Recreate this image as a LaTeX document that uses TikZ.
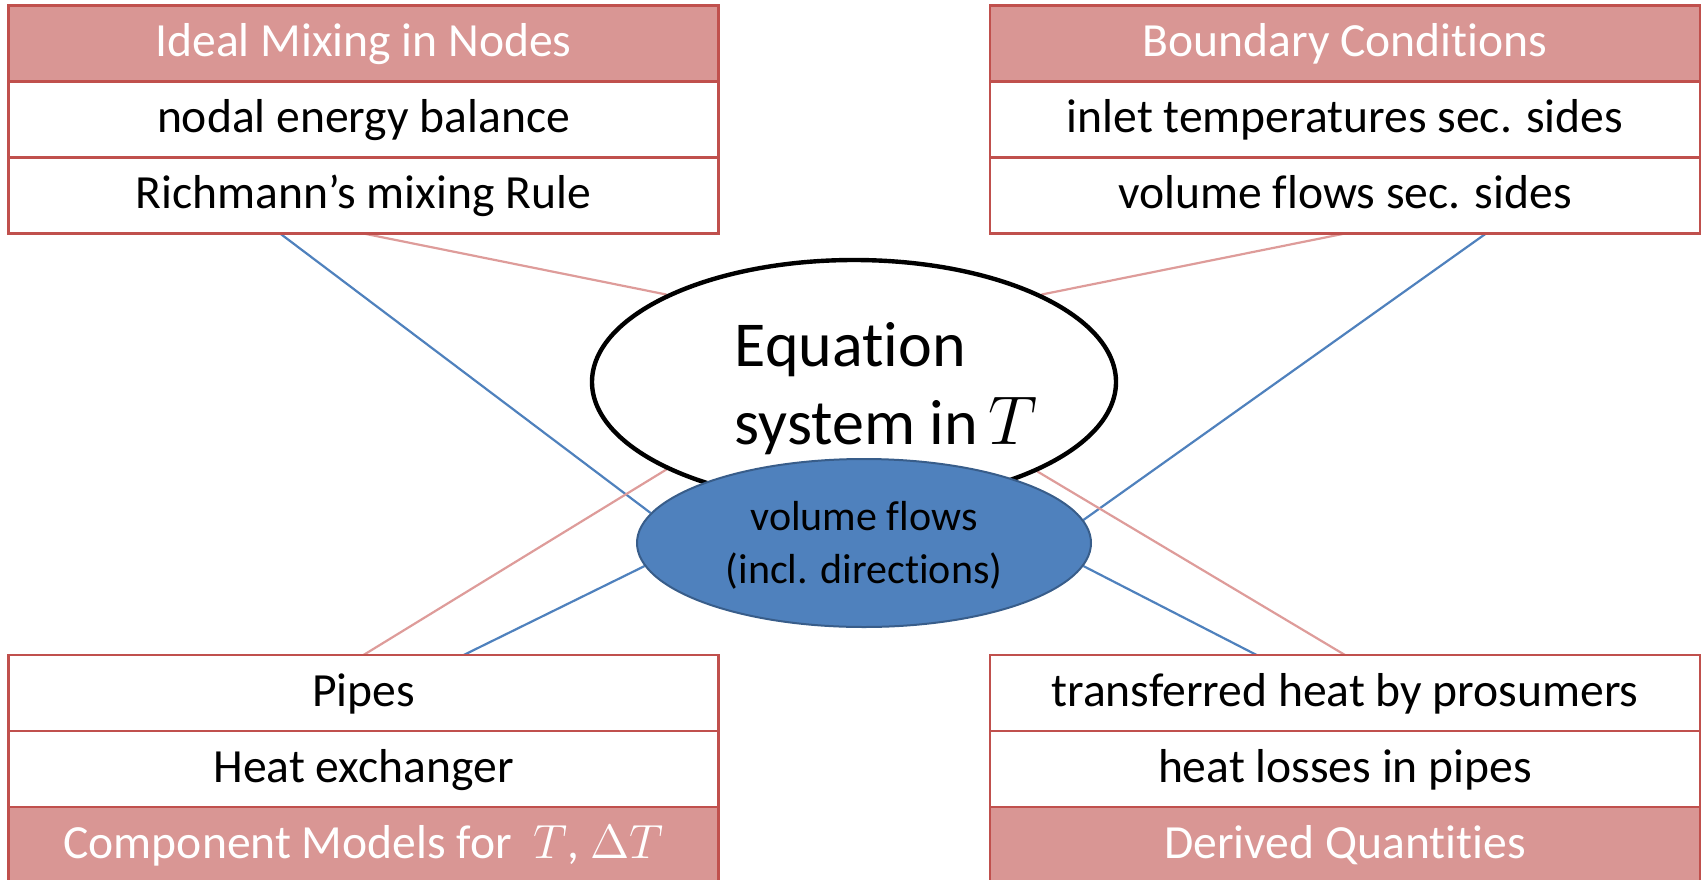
\documentclass[tikz,border=0pt]{standalone}
\usepackage{fontspec}
\setmainfont[Ligatures=NoCommon]{Carlito}
\usetikzlibrary{shapes.geometric}
\pgfdeclarelayer{background}
\pgfsetlayers{background,main}
\definecolor{hdrfill}{HTML}{D99694}
\definecolor{boxline}{HTML}{C0504D}
\definecolor{pinkline}{HTML}{DE9C9A}
\definecolor{blueline}{HTML}{4F81BD}
\definecolor{bluefill}{HTML}{4F81BD}
\definecolor{blueedge}{HTML}{385D8A}
\begin{document}
\begin{tikzpicture}[x=0.25pt,y=-0.25pt,
  row/.style={draw=boxline, line width=0.6pt, fill=white,
    minimum width=177.5pt, minimum height=19pt, inner sep=0pt, outer sep=0pt,
    anchor=north west, font=\fontsize{11.9}{14}\selectfont,
    text height=0.9em, text depth=0.25em},
  hdr/.style={row, fill=hdrfill, text=white},
  pinklink/.style={draw=pinkline, line width=0.55pt},
  bluelink/.style={draw=blueline, line width=0.55pt},
  eqell/.style={ellipse, draw=black, line width=1.1pt, fill=white,
    minimum width=131pt, minimum height=61pt, inner sep=0pt},
  vfell/.style={ellipse, draw=blueedge, line width=0.5pt, fill=bluefill,
    minimum width=113.5pt, minimum height=42pt, inner sep=0pt},
]
\useasboundingbox (0,0) rectangle (1703,879);
\clip (0,0) rectangle (1703,879);

% top left block
\node[hdr] (tl1) at (8.5,5.5) {Ideal Mixing in Nodes};
\node[row] (tl2) at (8.5,81.5) {nodal energy balance};
\node[row] (tl3) at (8.5,157.5) {Richmann’s mixing Rule};

% top right block
\node[hdr] (tr1) at (990,5.5) {Boundary Conditions};
\node[row] (tr2) at (990,81.5) {inlet temperatures sec. sides};
\node[row] (tr3) at (990,157.5) {volume flows sec. sides};

% bottom left block
\node[row] (bl1) at (8.5,655) {Pipes};
\node[row] (bl2) at (8.5,731) {Heat exchanger};
\node[hdr] (bl3) at (8.5,807) {Component Models for \ $T$, $\Delta T$};

% bottom right block
\node[row] (br1) at (990,655) {transferred heat by prosumers};
\node[row] (br2) at (990,731) {heat losses in pipes};
\node[hdr] (br3) at (990,807) {Derived Quantities};

% central ellipses
\node[eqell] (eq) at (854,382) {};
\node[font=\fontsize{16}{19.3}\selectfont, align=left, inner sep=0pt,
  anchor=base west] (eqtext) at (734,444)
  {Equation\\system in\,$T$};
\node[vfell] (vf) at (864,543) {};
\node[font=\fontsize{10.5}{13.25}\selectfont, align=center, inner sep=0pt,
  anchor=base] (vftext) at (864,583)
  {volume flows\\(incl. directions)};

% connectors behind the ellipses
\begin{pgfonlayer}{background}
\draw[pinklink] (tl3.south) -- (eq.155);
\draw[bluelink] ([xshift=67.9pt]tl3.south west) -- (vf.172.9);
\draw[pinklink] (tr3.south) -- (eq.25);
\draw[bluelink] ([xshift=124pt]tr3.south west) -- (vf.6.7);
\draw[pinklink] (bl1.north) -- (eq.205.8);
\draw[bluelink] ([xshift=113.8pt]bl1.north west) -- (vf.186);
\draw[pinklink] (br1.north) -- (eq.334.2);
\draw[bluelink] ([xshift=66.65pt]br1.north west) -- (vf.354);
\end{pgfonlayer}
\end{tikzpicture}
\end{document}
